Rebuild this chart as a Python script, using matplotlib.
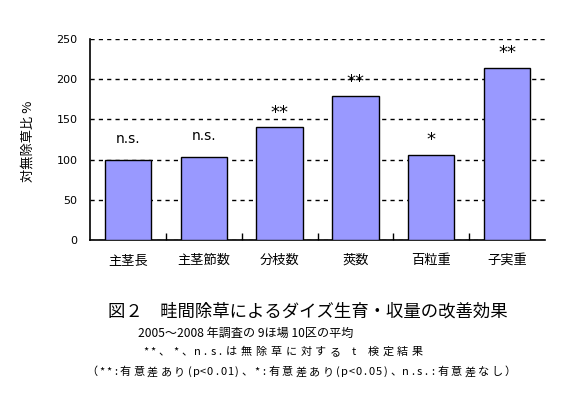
import matplotlib
matplotlib.use("Agg")
import matplotlib.pyplot as plt
import numpy as np
import unicodedata

plt.rcParams['font.family'] = ['Noto Sans CJK JP', 'DejaVu Sans']

categories = ['主茎長', '主茎節数', '分枝数', '莢数', '百粒重', '子実重']
values = [100, 103, 140, 179, 106, 214]
signif = ['n.s.', 'n.s.', '**', '**', '*', '**']
yticks = [0, 50, 100, 150, 200, 250]

title = '図２　畦間除草によるダイズ生育・収量の改善効果'
note1 = '2005～2008 年調査の 9ほ場 10区の平均'
note2 = '**、*、n.s.は無除草に対する t 検定結果'
note3 = '（**:有意差あり(p<0.01)、*:有意差あり(p<0.05)、n.s.:有意差なし）'
ylabel = '対無除草比 %'

W, H = 580, 396
fig = plt.figure(figsize=(W / 100, H / 100), dpi=100)
ax = fig.add_axes([90 / W, 1 - 240 / H, 455 / W, 201 / H])

x = np.arange(len(categories))
ax.bar(x, values, width=0.61, color='#9999FF', edgecolor='black', linewidth=1.0, zorder=3)

ax.set_xlim(-0.5, len(categories) - 0.5)
ax.set_ylim(0, 250)
ax.set_yticks(yticks)
ax.set_yticklabels([str(v) for v in yticks], fontsize=8, family='DejaVu Sans')
ax.yaxis.grid(True, color='black', linestyle=(0, (3, 3)), linewidth=1.0, zorder=0)
ax.set_axisbelow(True)

ax.set_xticks(x)
ax.set_xticklabels(categories, fontsize=9.5)
ax.set_xticks(x[:-1] + 0.5, minor=True)
ax.tick_params(axis='x', which='major', length=0, pad=10)
ax.tick_params(axis='x', which='minor', direction='in', length=5, width=1)
ax.tick_params(axis='y', length=0, pad=9)

for s in ['top', 'right']:
    ax.spines[s].set_visible(False)
for s in ['left', 'bottom']:
    ax.spines[s].set_linewidth(1.2)

for xi, v, s in zip(x, values, signif):
    if s == 'n.s.':
        ax.text(xi, v + 26, s, ha='center', va='center', fontsize=10, family='DejaVu Sans')
    else:
        ax.text(xi, v + 18, s, ha='center', va='center', fontsize=13, family='DejaVu Sans')

fig.text(28 / W, 1 - 141 / H, ylabel, rotation=90, ha='center', va='center', fontsize=9.5)

fig.text(308 / W, 1 - 312 / H, title, ha='center', va='center', fontsize=12.5)


def spaced_text(s, x0, x1, y, size):
    widths = [1.0 if unicodedata.east_asian_width(c) in ('F', 'W') else 0.5 for c in s]
    unit = (x1 - x0) / sum(widths)
    pos = x0
    for c, w in zip(s, widths):
        cx = pos + w * unit / 2
        if c != ' ':
            fig.text(cx / W, 1 - y / H, c, ha='center', va='center', fontsize=size)
        pos += w * unit


fig.text(138 / W, 1 - 333 / H, note1, ha='left', va='center', fontsize=8.7)
spaced_text(note2, 142, 425, 352, 8)
spaced_text(note3, 85, 517, 372, 8)

fig.savefig('out.png', dpi=100, facecolor='white')
